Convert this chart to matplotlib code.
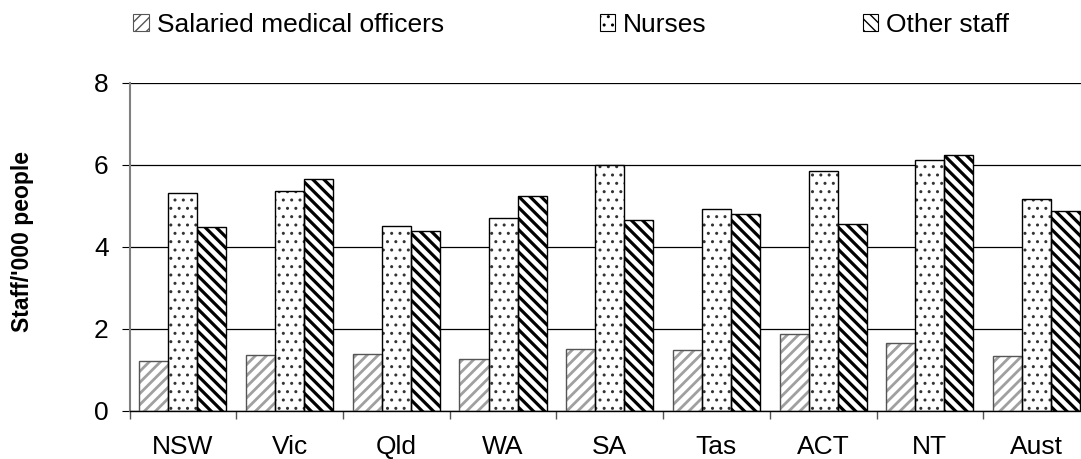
import matplotlib
matplotlib.use("Agg")
import matplotlib.pyplot as plt
from matplotlib.patches import Patch
import numpy as np

categories = ["NSW", "Vic", "Qld", "WA", "SA", "Tas", "ACT", "NT", "Aust"]
series_names = ["Salaried medical officers", "Nurses", "Other staff"]
smo = [1.23, 1.36, 1.39, 1.28, 1.52, 1.50, 1.87, 1.66, 1.34]
nurses = [5.32, 5.36, 4.52, 4.71, 5.99, 4.92, 5.85, 6.11, 5.16]
other = [4.50, 5.67, 4.40, 5.25, 4.67, 4.80, 4.55, 6.25, 4.89]
yticks = [0, 2, 4, 6, 8]
ylabel = "Staff/'000 people"

plt.rcParams['font.family'] = ['Liberation Sans', 'DejaVu Sans']

W, H = 1081, 459
fig = plt.figure(figsize=(W / 100, H / 100), dpi=100)
ax = fig.add_axes([129.5 / W, 48 / H, 960.5 / W, 328 / H])

x = np.arange(len(categories))
bw = 0.272

styles = [
    dict(hatch='///', hcolor='#a0a0a0', ecolor='#555555', hlw=2.0),
    dict(hatch='..', hcolor='#333333', ecolor='#000000', hlw=1.0),
    dict(hatch='\\\\\\', hcolor='#000000', ecolor='#000000', hlw=2.3),
]
data = [smo, nurses, other]

for i, (vals, st) in enumerate(zip(data, styles)):
    plt.rcParams['hatch.linewidth'] = st['hlw']
    bars = ax.bar(x + (i - 1) * bw, vals, bw, color='white', edgecolor=st['hcolor'],
                  hatch=st['hatch'], linewidth=0, zorder=2)
    for b in bars:
        if hasattr(b, 'set_hatch_linewidth'):
            b.set_hatch_linewidth(st['hlw'])
    ax.bar(x + (i - 1) * bw, vals, bw, color='none', edgecolor=st['ecolor'],
           linewidth=1.0, zorder=3)

ax.set_xlim(-0.5, len(categories) - 0.5)
ax.set_ylim(0, 8)
ax.set_yticks(yticks)
ax.set_xticks(x)
ax.set_xticklabels(categories, fontsize=19)
ax.set_xticks(np.arange(len(categories) + 1) - 0.5, minor=True)
ax.tick_params(axis='x', which='major', length=0, pad=17)
ax.tick_params(axis='x', which='minor', length=6, width=1.0, color='#555555', direction='out')
ax.tick_params(axis='y', labelsize=19, length=6, width=0.8, color='#000000', pad=9)

ax.yaxis.grid(True, color='black', linewidth=0.9, zorder=0)
ax.set_axisbelow(True)
for s in ['top', 'right']:
    ax.spines[s].set_visible(False)
ax.spines['left'].set_color('#808080')
ax.spines['left'].set_linewidth(1.5)
ax.spines['bottom'].set_color('black')
ax.spines['bottom'].set_linewidth(1.0)

fig.text(23 / W, 1 - 242 / H, ylabel, rotation=90, ha='center', va='center',
         fontsize=16.5, fontweight='bold')

handles = []
for name, st in zip(series_names, styles):
    plt.rcParams['hatch.linewidth'] = st['hlw'] * 0.8
    handles.append(Patch(facecolor='white', edgecolor=st['ecolor'], hatch=st['hatch'],
                         linewidth=0.8, label=name))
plt.rcParams['hatch.linewidth'] = 1.0

leg = fig.legend(handles=handles, loc='center left', bbox_to_anchor=(133 / W, 1 - 25 / H),
                 ncol=3, frameon=False, fontsize=19, handlelength=0.6, handleheight=0.6,
                 handletextpad=0.3, columnspacing=5.9, borderpad=0, borderaxespad=0)

fig.savefig("out.png", dpi=100)
